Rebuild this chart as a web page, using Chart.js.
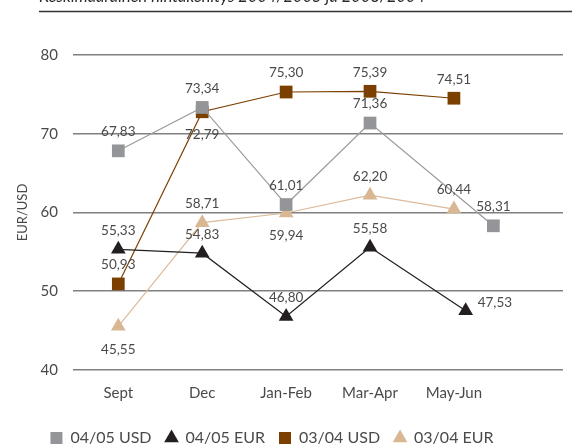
<!DOCTYPE html>
<html>
<head>
<meta charset="utf-8">
<script src="https://cdn.jsdelivr.net/npm/chart.js@4.4.1/dist/chart.umd.min.js"></script>
<style>
  html, body { margin: 0; padding: 0; background: #fff; }
  #wrap { position: relative; width: 572px; height: 445px; }
</style>
</head>
<body>
<div id="wrap"><canvas id="priceChart"></canvas></div>
<script>
// Chart data
const categories = ["Sept", "Dec", "Jan-Feb", "Mar-Apr", "May-Jun"];
const usd0405 = [67.83, 73.34, 61.01, 71.36, 58.31];
const usd0405At = [0, 1, 2, 3, 4.47];
const eur0405 = [55.33, 54.83, 46.8, 55.58, 47.53];
const eur0405At = [0, 1, 2, 3, 4.14];
const usd0304 = [50.93, 72.79, 75.3, 75.39, 74.51];
const eur0304 = [45.55, 58.71, 59.94, 62.2, 60.44];
const titleText = "Keskimääräinen hintakehitys 2004/2005 ja 2003/2004";

const FONT = "Lato, 'Open Sans', sans-serif";

// Build {x, y} points, x is the category index
function toPoints(values, at) {
  return values.map((v, i) => ({ x: at ? at[i] : i, y: v }));
}

// Draws the cut-off heading and its rule above the chart,
// and nudges the legend a little to the left like the original
const headingPlugin = {
  id: "heading",
  afterLayout(chart) {
    const lg = chart.legend;
    if (lg) {
      lg.left -= 14;
      lg.right -= 14;
    }
  },
  beforeDraw(chart) {
    const ctx = chart.ctx;
    ctx.save();
    ctx.font = "italic 16.5px " + FONT;
    ctx.fillStyle = "#2a2a2a";
    ctx.textAlign = "left";
    ctx.textBaseline = "alphabetic";
    ctx.fillText(titleText, 39, 1.5);
    ctx.strokeStyle = "#333";
    ctx.lineWidth = 1.5;
    ctx.beginPath();
    ctx.moveTo(39, 11.5);
    ctx.lineTo(chart.width, 11.5);
    ctx.stroke();
    ctx.restore();
  },
};

// Writes each value next to its marker, with a comma as decimal mark
const valueLabels = {
  id: "valueLabels",
  afterDatasetsDraw(chart, args, opts) {
    const ctx = chart.ctx;
    ctx.save();
    ctx.font = "13.5px " + FONT;
    ctx.fillStyle = "#4a4a4a";
    ctx.textBaseline = "middle";
    chart.data.datasets.forEach((ds, di) => {
      const meta = chart.getDatasetMeta(di);
      if (meta.hidden) return;
      const place = opts.place[di] || [];
      meta.data.forEach((pt, i) => {
        const txt = ds.data[i].y.toFixed(2).replace(".", ",");
        const p = place[i] || "a";
        let x = pt.x;
        let y = pt.y - 19;
        ctx.textAlign = "center";
        if (p === "b") y = pt.y + 23;
        if (p === "r") {
          ctx.textAlign = "left";
          x = pt.x + 12;
          y = pt.y - 8;
        }
        ctx.fillText(txt, x, y);
      });
    });
    ctx.restore();
  },
};

const ctx = document.getElementById("priceChart").getContext("2d");
new Chart(ctx, {
  type: "line",
  data: {
    datasets: [
      {
        label: "04/05 USD",
        data: toPoints(usd0405, usd0405At),
        borderColor: "#9a9a9c",
        backgroundColor: "#939598",
        pointBackgroundColor: "#939598",
        pointStyle: "rect",
        pointRadius: 9,
        pointHoverRadius: 9,
        pointBorderWidth: 0,
        borderWidth: 1.2,
      },
      {
        label: "04/05 EUR",
        data: toPoints(eur0405, eur0405At),
        borderColor: "#231f20",
        backgroundColor: "#231f20",
        pointBackgroundColor: "#231f20",
        pointStyle: "triangle",
        pointRadius: 8.5,
        pointHoverRadius: 8.5,
        pointBorderWidth: 0,
        borderWidth: 1.2,
      },
      {
        label: "03/04 USD",
        data: toPoints(usd0304),
        borderColor: "#7b3f00",
        backgroundColor: "#7b3f00",
        pointBackgroundColor: "#7b3f00",
        pointStyle: "rect",
        pointRadius: 9,
        pointHoverRadius: 9,
        pointBorderWidth: 0,
        borderWidth: 1.2,
      },
      {
        label: "03/04 EUR",
        data: toPoints(eur0304),
        borderColor: "#dcbb9a",
        backgroundColor: "#dab793",
        pointBackgroundColor: "#dab793",
        pointStyle: "triangle",
        pointRadius: 8.5,
        pointHoverRadius: 8.5,
        pointBorderWidth: 0,
        borderWidth: 1.2,
      },
    ],
  },
  options: {
    responsive: true,
    maintainAspectRatio: false,
    animation: false,
    events: [],
    layout: { padding: { top: 55, right: 0, bottom: -11, left: 0 } },
    scales: {
      x: {
        type: "linear",
        min: -0.54,
        max: 5.3,
        afterBuildTicks: (scale) => {
          scale.ticks = categories.map((c, i) => ({ value: i }));
        },
        afterFit: (scale) => {
          scale.height = 46;
        },
        ticks: {
          callback: (v) => categories[v],
          font: { family: FONT, size: 15 },
          color: "#4a4a4a",
          padding: 14,
          maxRotation: 0,
          autoSkip: false,
        },
        grid: { display: false, drawTicks: false },
        border: { display: false },
      },
      y: {
        min: 40,
        max: 80,
        afterFit: (scale) => {
          scale.width = 73;
        },
        ticks: {
          stepSize: 10,
          font: { family: FONT, size: 15 },
          color: "#4a4a4a",
          padding: 15,
        },
        grid: { color: "#808080", lineWidth: 1.6, drawTicks: false },
        border: { display: false },
        title: {
          display: true,
          text: "EUR/USD",
          font: { family: FONT, size: 13 },
          color: "#4a4a4a",
          padding: { top: 15, bottom: 0 },
        },
      },
    },
    plugins: {
      legend: {
        position: "bottom",
        labels: {
          usePointStyle: true,
          boxHeight: 12,
          boxWidth: 12,
          padding: 14,
          font: { family: FONT, size: 16 },
          color: "#4a4a4a",
        },
      },
      tooltip: { enabled: false },
      valueLabels: {
        place: [
          ["a", "a", "a", "a", "a"],
          ["a", "a", "a", "a", "r"],
          ["a", "b", "a", "a", "a"],
          ["b", "a", "b", "a", "a"],
        ],
      },
    },
  },
  plugins: [headingPlugin, valueLabels],
});
</script>
</body>
</html>
